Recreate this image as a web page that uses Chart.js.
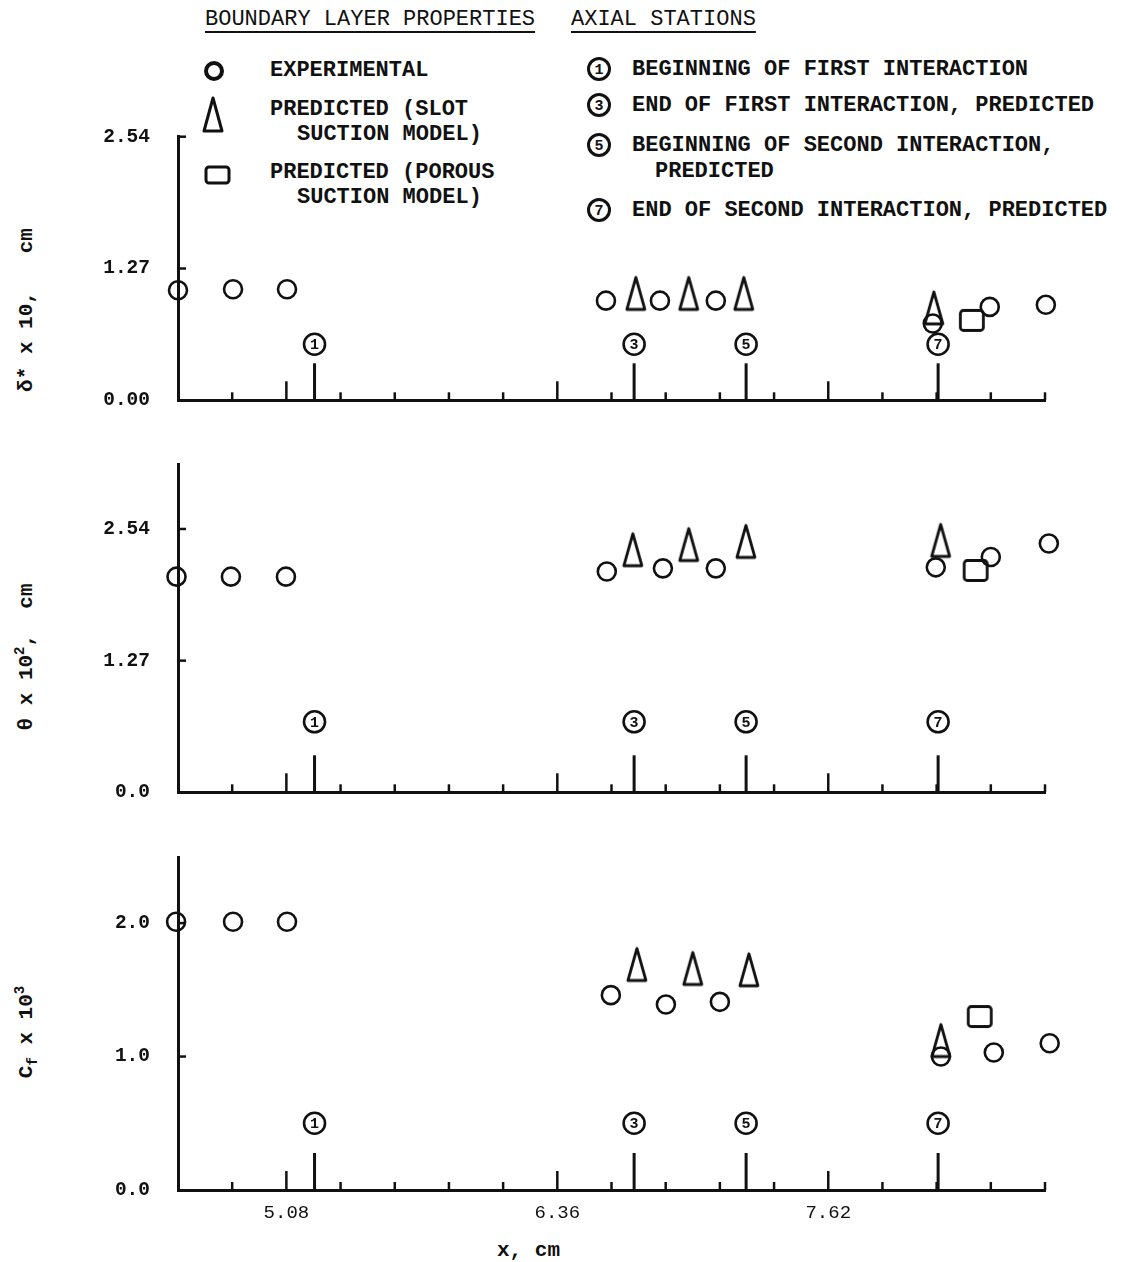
<!DOCTYPE html>
<html><head><meta charset="utf-8">
<script src="https://cdn.jsdelivr.net/npm/chart.js@4.4.1/dist/chart.umd.min.js"></script>
<style>
html,body{margin:0;padding:0;background:#fff;}
body{width:1130px;height:1262px;position:relative;overflow:hidden;font-family:"Liberation Mono","DejaVu Sans Mono",monospace;color:#111;}
.t{position:absolute;white-space:pre;font-size:22px;line-height:24px;font-weight:bold;}
.u{font-weight:normal;text-decoration:underline;text-decoration-thickness:2px;text-underline-offset:6px;}
canvas{position:absolute;left:0;}
.yt{position:absolute;white-space:pre;font-size:21px;line-height:24px;font-weight:bold;text-align:center;width:260px;height:24px;transform:rotate(-90deg);}
.yt sup{font-size:14px;line-height:0;vertical-align:8px;}
.yt sub{font-size:14px;line-height:0;vertical-align:-5px;}
</style></head><body>

<svg width="1130" height="230" style="position:absolute;left:0;top:0">
  <g stroke="#111" fill="none">
    <circle cx="214" cy="71" r="8" stroke-width="4"/>
    <path d="M213 98 L222 131 L204 131 Z" stroke-width="3" stroke-linejoin="round"/>
    <rect x="206" y="167" width="23" height="16" rx="3" stroke-width="3"/>
    <circle cx="599" cy="69" r="10.5" stroke-width="3"/>
    <circle cx="599" cy="105" r="10.5" stroke-width="3"/>
    <circle cx="599" cy="145" r="10.5" stroke-width="3"/>
    <circle cx="599" cy="210" r="10.5" stroke-width="3"/>
  </g>
  <g fill="#111" font-family="Liberation Mono" font-weight="bold" font-size="15" text-anchor="middle" dominant-baseline="central">
    <text x="599" y="70">1</text>
    <text x="599" y="106">3</text>
    <text x="599" y="146">5</text>
    <text x="599" y="211">7</text>
  </g>
</svg>

<div class="t u" style="left:205px;top:8px;">BOUNDARY LAYER PROPERTIES</div>
<div class="t u" style="left:571px;top:8px;">AXIAL STATIONS</div>
<div class="t" style="left:270px;top:59px;">EXPERIMENTAL</div>
<div class="t" style="left:270px;top:98px;">PREDICTED (SLOT</div>
<div class="t" style="left:297px;top:123px;">SUCTION MODEL)</div>
<div class="t" style="left:270px;top:161px;">PREDICTED (POROUS</div>
<div class="t" style="left:297px;top:186px;">SUCTION MODEL)</div>
<div class="t" style="left:632px;top:58px;">BEGINNING OF FIRST INTERACTION</div>
<div class="t" style="left:632px;top:94px;">END OF FIRST INTERACTION, PREDICTED</div>
<div class="t" style="left:632px;top:134px;">BEGINNING OF SECOND INTERACTION,</div>
<div class="t" style="left:655px;top:160px;">PREDICTED</div>
<div class="t" style="left:632px;top:199px;">END OF SECOND INTERACTION, PREDICTED</div>

<div class="yt" style="left:-103px;top:298px;">δ* x 10,   cm</div>
<div class="yt" style="left:-103px;top:645px;">θ x 10<sup>2</sup>,  cm</div>
<div class="yt" style="left:-103px;top:1020px;">C<sub>f</sub> x 10<sup>3</sup></div>
<div class="t" style="left:497px;top:1239px;font-size:21px;">x, cm</div>

<canvas id="c1" width="1130" height="343" style="top:97px"></canvas>
<canvas id="c2" width="1130" height="407" style="top:425px"></canvas>
<canvas id="c3" width="1130" height="422" style="top:818px"></canvas>

<script>
// ---- shared x axis (cm) ----
const xTickValues = [4.572, 4.826, 5.080, 5.334, 5.588, 5.842, 6.096, 6.350, 6.604, 6.858, 7.112, 7.366, 7.620, 7.874, 8.128, 8.382, 8.636];
const xTickLabels = ['', '', '5.08', '', '', '', '', '6.36', '', '', '', '', '7.62', '', '', '', ''];
const stationX = [5.212, 6.710, 7.235, 8.135];
const stationNumbers = ['1', '3', '5', '7'];

// ---- panel 1: delta* x 10, cm ----
const deltaExpX = [4.572, 4.830, 5.083, 6.578, 6.831, 7.093, 8.110, 8.377, 8.640];
const deltaExpY = [1.06, 1.07, 1.07, 0.96, 0.96, 0.96, 0.74, 0.90, 0.92];
const deltaSlotX = [6.718, 6.966, 7.224, 8.115];
const deltaSlotY = [1.03, 1.03, 1.03, 0.89];
const deltaPorousX = [8.293];
const deltaPorousY = [0.77];
const deltaYTicks = [0, 1.27, 2.54];
const deltaYLabels = ['0.00', '1.27', '2.54'];
const deltaStationLabelY = 0.54;

// ---- panel 2: theta x 10^2, cm ----
const thetaExpX = [4.565, 4.820, 5.078, 6.582, 6.845, 7.093, 8.124, 8.382, 8.654];
const thetaExpY = [2.08, 2.08, 2.08, 2.13, 2.16, 2.16, 2.17, 2.27, 2.40];
const thetaSlotX = [6.704, 6.966, 7.234, 8.147];
const thetaSlotY = [2.34, 2.39, 2.42, 2.43];
const thetaPorousX = [8.311];
const thetaPorousY = [2.14];
const thetaYTicks = [0, 1.27, 2.54];
const thetaYLabels = ['0.0', '1.27', '2.54'];
const thetaStationLabelY = 0.68;

// ---- panel 3: Cf x 10^3 ----
const cfExpX = [4.563, 4.830, 5.083, 6.601, 6.859, 7.112, 8.148, 8.396, 8.658];
const cfExpY = [2.01, 2.01, 2.01, 1.46, 1.39, 1.41, 1.00, 1.03, 1.10];
const cfSlotX = [6.723, 6.985, 7.248, 8.148];
const cfSlotY = [1.69, 1.66, 1.65, 1.12];
const cfPorousX = [8.330];
const cfPorousY = [1.30];
const cfYTicks = [0, 1.0, 2.0];
const cfYLabels = ['0.0', '1.0', '2.0'];
const cfStationLabelY = 0.50;

const INK = '#111';
const FONT = '"Liberation Mono", "DejaVu Sans Mono", monospace';

function triImg() {
  const c = document.createElement('canvas'); c.width = 24; c.height = 38;
  const g = c.getContext('2d'); g.strokeStyle = INK; g.lineWidth = 2.8; g.lineJoin = 'round';
  g.beginPath(); g.moveTo(12, 3); g.lineTo(21, 35); g.lineTo(3, 35); g.closePath(); g.stroke();
  return c;
}
function sqImg() {
  const c = document.createElement('canvas'); c.width = 28; c.height = 25;
  const g = c.getContext('2d'); g.strokeStyle = INK; g.lineWidth = 2.8;
  g.beginPath(); g.roundRect(2.5, 2.5, 23, 20, 3); g.stroke();
  return c;
}
const TRI = triImg(), SQ = sqImg();

function pts(xs, ys) { return xs.map((x, i) => ({ x: x, y: ys[i] })); }

const axisMarks = {
  id: 'axisMarks',
  afterDatasetsDraw(chart, args, opts) {
    const { ctx } = chart; const x = chart.scales.x, y = chart.scales.y;
    const base = y.getPixelForValue(0);
    const line = (a, b, c, d) => { ctx.beginPath(); ctx.moveTo(a, b); ctx.lineTo(c, d); ctx.stroke(); };
    ctx.save(); ctx.strokeStyle = INK; ctx.fillStyle = INK;
    ctx.lineWidth = 2.5;
    xTickValues.forEach((v, i) => {
      if (i === 0) return;
      const px = x.getPixelForValue(v);
      line(px, base, px, base - (xTickLabels[i] ? 19 : 8));
    });
    opts.yTicks.forEach(v => {
      if (v === 0) return;
      const py = y.getPixelForValue(v);
      line(x.left, py, x.left + 8, py);
    });
    ctx.lineWidth = 3;
    stationX.forEach(v => {
      const px = x.getPixelForValue(v);
      line(px, base, px, base - 37);
    });
    stationX.forEach((v, i) => {
      const px = x.getPixelForValue(v), py = y.getPixelForValue(opts.labelY);
      ctx.lineWidth = 2.6;
      ctx.beginPath(); ctx.arc(px, py, 10.5, 0, Math.PI * 2); ctx.stroke();
      ctx.font = 'bold 15px ' + FONT; ctx.textAlign = 'center'; ctx.textBaseline = 'middle';
      ctx.fillText(stationNumbers[i], px, py + 1);
    });
    ctx.restore();
  }
};

function makePanel(id, p) {
  new Chart(document.getElementById(id), {
    type: 'scatter',
    data: {
      datasets: [
        { data: pts(p.ex, p.ey), pointStyle: 'circle', pointRadius: 9, borderWidth: 2.6, borderColor: INK, backgroundColor: 'rgba(0,0,0,0)', clip: false },
        { data: pts(p.sx, p.sy), pointStyle: TRI, pointRadius: 10, clip: false },
        { data: pts(p.px, p.py), pointStyle: SQ, pointRadius: 10, clip: false }
      ]
    },
    options: {
      responsive: false, animation: false, devicePixelRatio: 1,
      layout: { autoPadding: false, padding: { left: 0, right: 85, top: p.padTop, bottom: p.padBottom } },
      plugins: { legend: { display: false }, tooltip: { enabled: false }, axisMarks: { yTicks: p.yTicks, labelY: p.labelY } },
      scales: {
        x: {
          type: 'linear', min: 4.572, max: 8.636,
          grid: { display: false, drawTicks: false },
          border: { display: true, width: 3, color: INK },
          ticks: { display: p.showX, autoSkip: false, maxRotation: 0, padding: 12, color: INK,
                   font: { family: FONT, size: 19 }, callback: (v, i) => xTickLabels[i] || '' },
          afterBuildTicks: s => { s.ticks = xTickValues.map(v => ({ value: v })); },
          afterFit: s => { s.height = p.xH; }
        },
        y: {
          type: 'linear', min: 0, max: p.max,
          grid: { display: false, drawTicks: false },
          border: { display: true, width: 3, color: INK },
          ticks: { padding: 28, autoSkip: false, color: INK,
                   font: { family: FONT, size: 19.5, weight: 'bold' }, callback: (v, i) => p.yLabels[i] },
          afterBuildTicks: s => { s.ticks = p.yTicks.map(v => ({ value: v })); },
          afterFit: s => { s.width = 178; }
        }
      }
    },
    plugins: [axisMarks]
  });
}

makePanel('c1', { ex: deltaExpX, ey: deltaExpY, sx: deltaSlotX, sy: deltaSlotY, px: deltaPorousX, py: deltaPorousY,
  yTicks: deltaYTicks, yLabels: deltaYLabels, labelY: deltaStationLabelY, max: 2.54, padTop: 37, padBottom: 10, xH: 10, showX: false });
makePanel('c2', { ex: thetaExpX, ey: thetaExpY, sx: thetaSlotX, sy: thetaSlotY, px: thetaPorousX, py: thetaPorousY,
  yTicks: thetaYTicks, yLabels: thetaYLabels, labelY: thetaStationLabelY, max: 3.16, padTop: 38, padBottom: 10, xH: 10, showX: false });
makePanel('c3', { ex: cfExpX, ey: cfExpY, sx: cfSlotX, sy: cfSlotY, px: cfPorousX, py: cfPorousY,
  yTicks: cfYTicks, yLabels: cfYLabels, labelY: cfStationLabelY, max: 2.49, padTop: 38, padBottom: 10, xH: 40, showX: true });
</script>
</body></html>
